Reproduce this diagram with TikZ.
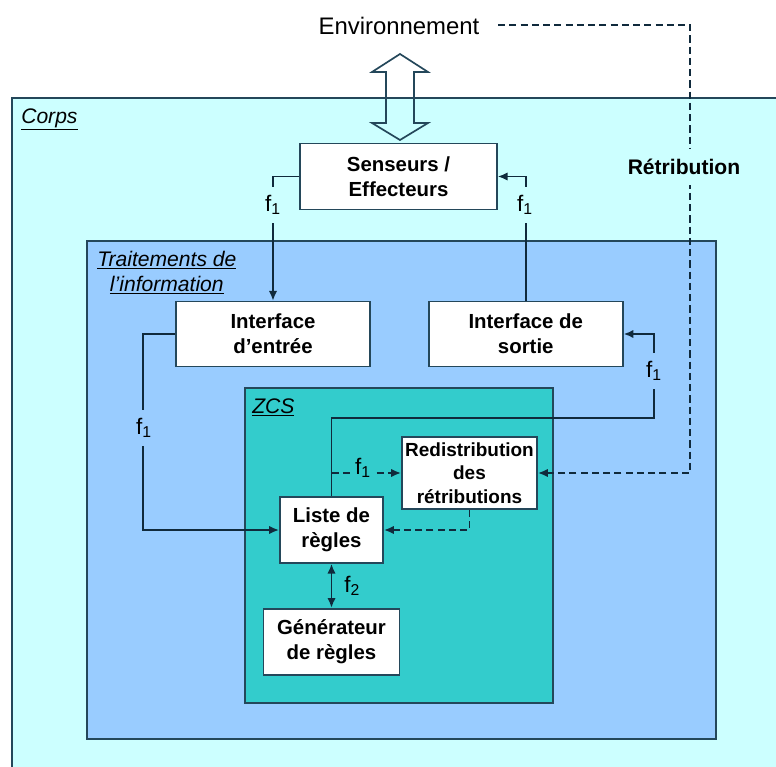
\documentclass[tikz,border=0pt]{standalone}
\usepackage{fontspec}
\setmainfont{Liberation Sans}
\usetikzlibrary{arrows.meta, positioning, calc}
\definecolor{corpsbg}{HTML}{CCFFFF}
\definecolor{traitbg}{HTML}{99CCFF}
\definecolor{zcsbg}{HTML}{33CCCC}
\definecolor{edge}{HTML}{24475A}
\definecolor{wire}{HTML}{102A3C}
\tikzset{
  block/.style  = {draw=edge, fill=white, line width=1.2pt, align=center,
                   inner sep=0pt, text=black,
                   font=\bfseries\fontsize{14.5}{17.8}\selectfont},
  zone/.style   = {draw=edge, line width=1.3pt},
  ztitle/.style = {anchor=north west, align=center, inner sep=0pt,
                   font=\itshape\fontsize{15}{17.8}\selectfont},
  arr/.style    = {-{Latex[length=7pt, width=6pt]}, line width=1.3pt, draw=wire},
  barr/.style   = {{Latex[length=7pt, width=6pt]}-{Latex[length=7pt, width=6pt]},
                   line width=1.3pt, draw=wire},
  darr/.style   = {arr, dash pattern=on 5pt off 3pt},
  lbl/.style    = {font=\fontsize{16}{18}\selectfont, inner xsep=2pt, inner ysep=6pt}
}

\begin{document}
\begin{tikzpicture}[x=0.025cm, y=-0.025cm]

  \clip (0,0) rectangle (776,767);

  % ── Zones ─────────────────────────────────────────────────────────────────
  \filldraw[zone, fill=corpsbg] (12,98)  rectangle (800,800);
  \filldraw[zone, fill=traitbg] (87,241) rectangle (716,739);
  \filldraw[zone, fill=zcsbg]   (245,388) rectangle (553,703);

  \node[ztitle] (tcorps) at (21,108)  {\underline{Corps}};
  \node[ztitle] (ttrait) at (97,251)  {\underline{Traitements de}\\\underline{l’information}};
  \node[ztitle] (tzcs)   at (252,398) {\underline{ZCS}};

  % ── Environment and exchange ──────────────────────────────────────────────
  \node[font=\fontsize{17}{20}\selectfont] (env) at (399,26) {Environnement};
  \coordinate (exch) at (400,97);
  \begin{scope}[shift={(exch)}]
    \draw[edge, line width=1.2pt] (0,-43) -- (28,-25) -- (14,-25) -- (14,26)
      -- (28,26) -- (0,43) -- (-28,26) -- (-14,26) -- (-14,-25) -- (-28,-25) -- cycle;
  \end{scope}

  % ── Blocks ────────────────────────────────────────────────────────────────
  \node[block, minimum width=4.92cm, minimum height=1.65cm] (sens) at (398.5,176.5)
       {Senseurs /\\Effecteurs};
  \node[block, minimum width=4.85cm, minimum height=1.62cm] (ient) at (273,334)
       {Interface\\d’entrée};
  \node[block, minimum width=4.85cm, minimum height=1.62cm, right=1.425cm of ient] (isor)
       {Interface de\\sortie};
  \node[block, minimum width=2.58cm, minimum height=1.65cm] (liste) at (331.5,530)
       {Liste de\\règles};
  \node[block, minimum width=3.38cm, minimum height=1.8cm,
        font=\bfseries\fontsize{13.5}{16.7}\selectfont] (redis) at (469.5,473)
       {Redistribution\\des\\rétributions};
  \node[block, minimum width=3.4cm, minimum height=1.65cm, below=1.1cm of liste] (gen)
       {Générateur\\de règles};

  % ── Connections ───────────────────────────────────────────────────────────
  \coordinate (envR)  at (498,25);
  \coordinate (retC)  at (690,25);
  \coordinate (loopR) at (654,418);

  % perception / action
  \draw[arr] (sens.west) -| (ient.north);
  \draw[arr] (isor.north) |- (sens.east);

  % input to rules, rules to output
  \draw[arr] (ient.west) -- ++(-32,0) |- (liste.west);
  \draw[arr] (liste.north) |- (loopR) |- (isor.east);

  % credit assignment
  \draw[darr] (liste.north |- redis.west) -- (redis.west);
  \draw[darr] (redis.south) |- (liste.east);
  \draw[darr] (envR) -- (retC) |- (redis.east);

  % rule discovery
  \draw[barr] (liste.south) -- (gen.north);

  % ── Labels ────────────────────────────────────────────────────────────────
  \node[lbl, fill=corpsbg] (fa) at (273,205) {f\textsubscript{1}};
  \node[lbl, fill=corpsbg] (fb) at (525,205) {f\textsubscript{1}};
  \node[lbl, fill=traitbg] (fc) at (144,428) {f\textsubscript{1}};
  \node[lbl, fill=traitbg] (fd) at (654,371) {f\textsubscript{1}};
  \node[lbl, fill=zcsbg, inner ysep=2pt] (fe) at (363,468) {f\textsubscript{1}};
  \node[lbl, anchor=west, inner xsep=0pt] (ff) at (344,586) {f\textsubscript{2}};
  \node[lbl, fill=corpsbg, inner ysep=7pt, font=\bfseries\fontsize{15}{18}\selectfont]
       (retr) at (684,167) {Rétribution};

\end{tikzpicture}
\end{document}
